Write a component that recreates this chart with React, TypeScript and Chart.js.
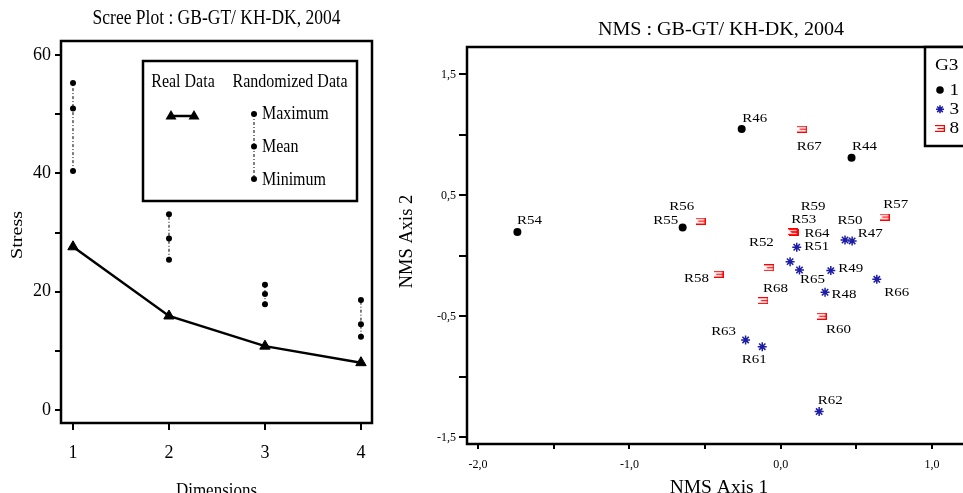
import React, { useEffect, useRef } from 'react';
import { Chart, registerables } from 'chart.js';
Chart.register(...registerables);

// ---------- Scree plot data ----------
const dimensions = [1, 2, 3, 4];
const realStress = [27.6, 15.9, 10.8, 8.0];
const randMax = [55.3, 33.1, 21.2, 18.6];
const randMean = [51.0, 29.0, 19.6, 14.5];
const randMin = [40.4, 25.4, 17.9, 12.4];
const screeYTicks = [0, 10, 20, 30, 40, 50, 60];
const screeYLabels = [0, 20, 40, 60];
const screeTitle = 'Scree Plot : GB-GT/ KH-DK, 2004';

// ---------- NMS data ----------
const g1Names = ['R54', 'R56', 'R46', 'R44'];
const g1X = [-1.74, -0.648, -0.258, 0.468];
const g1Y = [0.198, 0.236, 1.05, 0.812];

const g3Names = ['R50', 'R47', 'R51', 'R59', 'R65', 'R49', 'R66', 'R48', 'R63', 'R61', 'R62'];
const g3X = [0.425, 0.472, 0.106, 0.062, 0.124, 0.331, 0.635, 0.293, -0.232, -0.122, 0.254];
const g3Y = [0.132, 0.124, 0.072, -0.047, -0.116, -0.121, -0.193, -0.3, -0.694, -0.75, -1.286];

const g8Names = ['R67', 'R55', 'R57', 'R53', 'R64', 'R52', 'R58', 'R68', 'R60'];
const g8X = [0.142, -0.529, 0.687, 0.08, 0.088, -0.075, -0.411, -0.114, 0.27];
const g8Y = [1.048, 0.288, 0.322, 0.201, 0.196, -0.097, -0.151, -0.369, -0.498];

const groupLabels = ['1', '3', '8'];
const nmsXTicks = [-2, -1.5, -1, -0.5, 0, 0.5, 1];
const nmsXLabels = [-2, -1, 0, 1];
const nmsYTicks = [-1.5, -1, -0.5, 0, 0.5, 1, 1.5];
const nmsYLabels = [-1.5, -0.5, 0.5, 1.5];
const nmsTitle = 'NMS : GB-GT/ KH-DK, 2004';

// label placement (pixel offsets from each point)
const labelOffsets: Record<string, [number, number]> = {
  R54: [12, -11], R56: [-1, -21], R46: [13, -10], R44: [13, -11],
  R67: [7, 17], R55: [-35, -1], R57: [11, -12], R53: [11, -12], R64: [23, 1],
  R52: [-8, -25], R58: [-22, 4], R68: [12, -12], R60: [17, 13],
  R50: [5, -19], R47: [18, -7], R51: [20, -1], R59: [23, -55], R65: [13, 10],
  R49: [20, -2], R66: [20, 13], R48: [19, 2], R63: [-22, -8], R61: [-8, 13], R62: [11, -11],
};

const SERIF = '"Liberation Serif", "Times New Roman", Times, serif';
const BLUE = '#1c1ca6';
const RED = '#ff0000';

function drawText(
  ctx: CanvasRenderingContext2D, text: string, x: number, y: number, size: number,
  o: { align?: CanvasTextAlign; baseline?: CanvasTextBaseline; sx?: number; sy?: number; rotate?: number } = {}
) {
  ctx.save();
  ctx.translate(x, y);
  ctx.scale(o.sx ?? 1, o.sy ?? 1);
  if (o.rotate) ctx.rotate(o.rotate);
  ctx.font = `${size}px ${SERIF}`;
  ctx.fillStyle = '#000';
  ctx.textAlign = o.align ?? 'center';
  ctx.textBaseline = o.baseline ?? 'middle';
  ctx.fillText(text, 0, 0);
  ctx.restore();
}

function makeExists(color: string) {
  const c = document.createElement('canvas');
  c.width = 10;
  c.height = 7;
  const g = c.getContext('2d')!;
  g.fillStyle = color;
  g.fillRect(0, 0, 10, 1.2);
  g.fillRect(2.5, 2.9, 7.5, 1.2);
  g.fillRect(0, 5.8, 10, 1.2);
  g.fillRect(8.7, 0, 1.3, 7);
  return c;
}

function drawStar(ctx: CanvasRenderingContext2D, x: number, y: number, r: number, color: string) {
  ctx.save();
  ctx.strokeStyle = color;
  ctx.lineWidth = 1.5;
  ctx.beginPath();
  for (let k = 0; k < 4; k++) {
    const a = (k * Math.PI) / 4;
    ctx.moveTo(x - Math.cos(a) * r, y - Math.sin(a) * r);
    ctx.lineTo(x + Math.cos(a) * r, y + Math.sin(a) * r);
  }
  ctx.stroke();
  ctx.restore();
}

function fmtComma(v: number) {
  return v.toFixed(1).replace('.', ',');
}
const has = (arr: number[], v: number) => arr.some((a) => Math.abs(a - v) < 1e-6);

function screeConfig(): any {
  const randomSets = dimensions.map((d, i) => ({
    data: [
      { x: d, y: randMin[i] },
      { x: d, y: randMean[i] },
      { x: d, y: randMax[i] },
    ],
    showLine: true,
    borderColor: '#000',
    borderWidth: 1,
    borderDash: [3, 2, 1, 2],
    pointRadius: 3,
    pointBackgroundColor: '#000',
    pointBorderWidth: 0,
    order: 2,
  }));
  const realSet = {
    data: dimensions.map((d, i) => ({ x: d, y: realStress[i] })),
    showLine: true,
    borderColor: '#000',
    borderWidth: 2.5,
    pointStyle: 'triangle',
    pointRadius: 6,
    pointBackgroundColor: '#000',
    pointBorderColor: '#000',
    pointBorderWidth: 1,
    order: 1,
  };
  const framePlugin = {
    id: 'screeDecor',
    afterDraw(chart: any) {
      const ctx: CanvasRenderingContext2D = chart.ctx;
      const a = chart.chartArea;
      ctx.save();
      ctx.strokeStyle = '#000';
      ctx.lineWidth = 2.5;
      ctx.strokeRect(a.left, a.top, a.right - a.left, a.bottom - a.top);
      // legend box
      ctx.fillStyle = '#fff';
      ctx.fillRect(143, 61, 214, 140);
      ctx.strokeRect(143, 61, 214, 140);
      // real data sample
      ctx.beginPath();
      ctx.lineWidth = 2.5;
      ctx.moveTo(171, 116);
      ctx.lineTo(194, 116);
      ctx.stroke();
      ctx.fillStyle = '#000';
      for (const tx of [171, 194]) {
        ctx.beginPath();
        ctx.moveTo(tx, 110);
        ctx.lineTo(tx + 5.5, 119.5);
        ctx.lineTo(tx - 5.5, 119.5);
        ctx.closePath();
        ctx.fill();
      }
      // randomized sample
      ctx.beginPath();
      ctx.lineWidth = 1;
      ctx.setLineDash([3, 2, 1, 2]);
      ctx.moveTo(254, 114);
      ctx.lineTo(254, 179);
      ctx.stroke();
      ctx.setLineDash([]);
      for (const ty of [114, 146.5, 179]) {
        ctx.beginPath();
        ctx.arc(254, ty, 3, 0, Math.PI * 2);
        ctx.fill();
      }
      ctx.restore();
      const st = { sy: 1.15 };
      drawText(ctx, 'Real Data', 183, 82, 16, st);
      drawText(ctx, 'Randomized Data', 290, 82, 16, st);
      drawText(ctx, 'Maximum', 262, 114.5, 16, { ...st, align: 'left' });
      drawText(ctx, 'Mean', 262, 147, 16, { ...st, align: 'left' });
      drawText(ctx, 'Minimum', 262, 180, 16, { ...st, align: 'left' });
      // titles
      drawText(ctx, screeTitle, (a.left + a.right) / 2, 19, 17.5, st);
      drawText(ctx, 'Stress', 17, 235, 17.5, { sy: 1.15, rotate: -Math.PI / 2 });
      drawText(ctx, 'Dimensions', (a.left + a.right) / 2, 496, 17, { sy: 1.15, baseline: 'alphabetic' });
    },
  };
  return {
    type: 'scatter',
    data: { datasets: [realSet, ...randomSets] },
    options: {
      responsive: false,
      animation: false,
      devicePixelRatio: 1,
      events: [],
      layout: { padding: { left: 0, top: 41, right: 18, bottom: 0 } },
      plugins: { legend: { display: false }, tooltip: { enabled: false }, title: { display: false } },
      scales: {
        x: {
          type: 'linear',
          min: 0.875,
          max: 4.115,
          afterBuildTicks: (s: any) => { s.ticks = dimensions.map((v) => ({ value: v })); },
          afterFit: (s: any) => { s.height = 70; },
          grid: { drawOnChartArea: false, drawTicks: true, tickLength: 7, lineWidth: 2, color: '#000' },
          border: { display: false },
          ticks: { color: '#000', font: { family: SERIF, size: 18 }, padding: 12, maxRotation: 0, autoSkip: false, callback: (v: number) => String(v) },
        },
        y: {
          type: 'linear',
          min: -2.2,
          max: 62.4,
          afterBuildTicks: (s: any) => { s.ticks = screeYTicks.map((v) => ({ value: v })); },
          afterFit: (s: any) => { s.width = 61; },
          grid: { drawOnChartArea: false, drawTicks: true, tickLength: 6, lineWidth: 2, color: '#000' },
          border: { display: false },
          ticks: { color: '#000', font: { family: SERIF, size: 18 }, padding: 4, autoSkip: false, callback: (v: number) => (has(screeYLabels, v) ? String(v) : '') },
        },
      },
    },
    plugins: [framePlugin],
  };
}

function nmsConfig(): any {
  const existsImg = makeExists(RED);
  const groupNames = [g1Names, g3Names, g8Names];
  const toPts = (xs: number[], ys: number[]) => xs.map((x, i) => ({ x, y: ys[i] }));
  const datasets = [
    { data: toPts(g1X, g1Y), pointStyle: 'circle', pointRadius: 4, pointBackgroundColor: '#000', pointBorderColor: '#000', pointBorderWidth: 0 },
    { data: toPts(g3X, g3Y), pointStyle: 'star', pointRadius: 4.5, pointBorderColor: BLUE, pointBackgroundColor: BLUE, pointBorderWidth: 1.5 },
    { data: toPts(g8X, g8Y), pointStyle: existsImg, pointRadius: 5 },
  ];
  const decor = {
    id: 'nmsDecor',
    afterDraw(chart: any) {
      const ctx: CanvasRenderingContext2D = chart.ctx;
      const a = chart.chartArea;
      // point labels
      chart.data.datasets.forEach((_: any, di: number) => {
        const meta = chart.getDatasetMeta(di);
        const names = groupNames[di];
        meta.data.forEach((pt: any, i: number) => {
          const off = labelOffsets[names[i]] || [12, -10];
          drawText(ctx, names[i], pt.x + off[0], pt.y + off[1], 13, { sx: 1.15 });
        });
      });
      ctx.save();
      ctx.strokeStyle = '#000';
      ctx.lineWidth = 2.5;
      ctx.strokeRect(a.left, a.top, a.right - a.left, a.bottom - a.top);
      // legend
      const lx = 535, ly = a.top, lb = 146;
      ctx.fillStyle = '#fff';
      ctx.fillRect(lx, ly, 200, lb - ly);
      ctx.strokeRect(lx, ly, 200, lb - ly);
      ctx.fillStyle = '#000';
      ctx.beginPath();
      ctx.arc(550, 90, 3.8, 0, Math.PI * 2);
      ctx.fill();
      drawStar(ctx, 550, 109.3, 4, BLUE);
      ctx.drawImage(existsImg, 545, 125);
      ctx.restore();
      drawText(ctx, 'G3', 545, 66, 17, { align: 'left', sx: 1.13 });
      drawText(ctx, groupLabels[0], 559.5, 90.5, 17, { align: 'left', sx: 1.13 });
      drawText(ctx, groupLabels[1], 559.5, 109.5, 17, { align: 'left', sx: 1.13 });
      drawText(ctx, groupLabels[2], 559.5, 128.5, 17, { align: 'left', sx: 1.13 });
      // titles
      drawText(ctx, nmsTitle, 331, 30.5, 17.8, { sx: 1.13 });
      drawText(ctx, 'NMS Axis 1', 329, 488, 19.5);
      drawText(ctx, 'NMS Axis 2', 17, 241.5, 18.5, { rotate: -Math.PI / 2 });
    },
  };
  return {
    type: 'scatter',
    data: { datasets },
    options: {
      responsive: false,
      animation: false,
      devicePixelRatio: 1,
      events: [],
      layout: { padding: { left: 0, top: 47, right: 38, bottom: 0 } },
      plugins: { legend: { display: false }, tooltip: { enabled: false }, title: { display: false } },
      scales: {
        x: {
          type: 'linear',
          min: -2.073,
          max: 1.264,
          afterBuildTicks: (s: any) => { s.ticks = nmsXTicks.map((v) => ({ value: v })); },
          afterFit: (s: any) => { s.height = 49; },
          grid: { drawOnChartArea: false, drawTicks: true, tickLength: 5, lineWidth: 2, color: '#000' },
          border: { display: false },
          ticks: { color: '#000', font: { family: SERIF, size: 12 }, padding: 9, maxRotation: 0, autoSkip: false, callback: (v: number) => (has(nmsXLabels, v) ? fmtComma(v) : '') },
        },
        y: {
          type: 'linear',
          min: -1.554,
          max: 1.727,
          afterBuildTicks: (s: any) => { s.ticks = nmsYTicks.map((v) => ({ value: v })); },
          afterFit: (s: any) => { s.width = 77; },
          grid: { drawOnChartArea: false, drawTicks: true, tickLength: 8, lineWidth: 2, color: '#000' },
          border: { display: false },
          ticks: { color: '#000', font: { family: SERIF, size: 12 }, padding: 3, autoSkip: false, callback: (v: number) => (has(nmsYLabels, v) ? fmtComma(v) : '') },
        },
      },
    },
    plugins: [decor],
  };
}

export default function App() {
  const leftRef = useRef<HTMLCanvasElement>(null);
  const rightRef = useRef<HTMLCanvasElement>(null);
  useEffect(() => {
    const left = new Chart(leftRef.current!, screeConfig());
    const right = new Chart(rightRef.current!, nmsConfig());
    return () => {
      left.destroy();
      right.destroy();
    };
  }, []);
  return (
    <div style={{ position: 'absolute', left: 0, top: 0, width: 963, height: 493, overflow: 'hidden', background: '#fff' }}>
      <canvas ref={leftRef} width={390} height={493} style={{ position: 'absolute', left: 0, top: 0 }} />
      <canvas ref={rightRef} width={620} height={493} style={{ position: 'absolute', left: 390, top: 0 }} />
    </div>
  );
}
